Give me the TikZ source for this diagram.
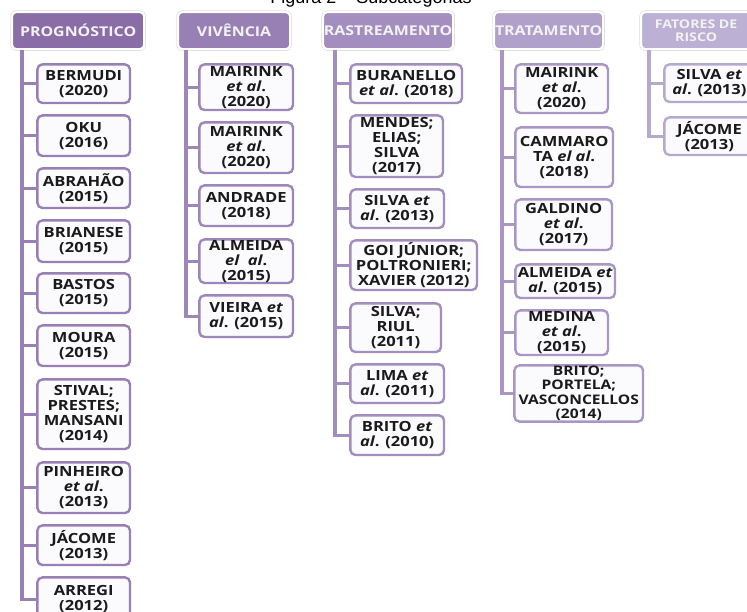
\documentclass[tikz,border=0pt]{standalone}
\usepackage{fontspec}
\setmainfont{Open Sans}[FakeStretch=1.18]
\newfontfamily\titlefont{Liberation Sans}
\definecolor{hA}{HTML}{8A6CA7}
\definecolor{hB}{HTML}{9880B4}
\definecolor{hC}{HTML}{A38EBF}
\definecolor{hD}{HTML}{B0A0CA}
\definecolor{hE}{HTML}{BCB0D4}
\definecolor{bA}{HTML}{9880B6}
\definecolor{bB}{HTML}{9C86BA}
\definecolor{bC}{HTML}{A28DBF}
\definecolor{bD}{HTML}{A996C5}
\definecolor{bE}{HTML}{B6A9CF}
\definecolor{boxfill}{HTML}{FBFAFD}
\definecolor{txt}{HTML}{1A1A1A}
\tikzset{
  hd/.style={preaction={draw=black!13,line width=3.6pt}, draw=white, line width=2.2pt,
    rounded corners=4pt, anchor=north west, inner sep=0pt, align=center,
    text=white!95!black, font=\bfseries\fontsize{13.5}{14}\selectfont},
  bx/.style={draw=#1, line width=2.4pt, fill=boxfill, rounded corners=5pt,
    anchor=north west, inner sep=0.5pt, align=center, text=txt,
    font=\bfseries\fontsize{14}{15}\selectfont},
  tk/.style={draw=#1, line width=3.4pt}
}
\begin{document}
\begin{tikzpicture}[x=1pt,y=-1pt]
\path[use as bounding box] (0,0) rectangle (747,611);
\clip (0,0) rectangle (747,611);
\node[anchor=base, font=\titlefont\fontsize{18}{20}\selectfont] (title) at (371,3.5) {Figura 2 – Subcategorias};
% headers
\node[hd, fill=hA, minimum width=132, minimum height=37] (hp) at (11,11) {PROGNÓSTICO};
\node[hd, fill=hB, minimum width=112, minimum height=37] (hv) at (177,11) {VIVÊNCIA};
\node[hd, fill=hC, minimum width=130, minimum height=37] (hr) at (322,11) {RASTREAMENTO};
\node[hd, fill=hD, minimum width=109, minimum height=37] (ht) at (493,11) {TRATAMENTO};
\node[hd, fill=hE, minimum width=110, minimum height=37, font=\bfseries\fontsize{12}{12.5}\selectfont] (hf) at (640,11) {FATORES DE\\RISCO};
% PROGNOSTICO
\node[bx=bA, minimum width=92.6, minimum height=38.6] (p1) at (36.2,63.2) {BERMUDI\\(2020)};
\node[bx=bA, minimum width=92.6, minimum height=40.6] (p2) at (36.2,114.2) {OKU\\(2016)};
\node[bx=bA, minimum width=92.6, minimum height=39.6] (p3) at (36.2,167.2) {ABRAHÃO\\(2015)};
\node[bx=bA, minimum width=92.6, minimum height=41.6] (p4) at (36.2,219.2) {BRIANESE\\(2015)};
\node[bx=bA, minimum width=92.6, minimum height=39.6] (p5) at (36.2,272.2) {BASTOS\\(2015)};
\node[bx=bA, minimum width=92.6, minimum height=40.6] (p6) at (36.2,324.2) {MOURA\\(2015)};
\node[bx=bA, minimum width=92.6, minimum height=69.6] (p7) at (36.2,378.2) {STIVAL;\\PRESTES;\\MANSANI\\(2014)};
\node[bx=bA, minimum width=92.6, minimum height=50.6] (p8) at (36.2,461.2) {PINHEIRO\\\textit{et al}.\\(2013)};
\node[bx=bA, minimum width=92.6, minimum height=39.6] (p9) at (36.2,524.2) {JÁCOME\\(2013)};
\node[bx=bA, minimum width=92.6, minimum height=44] (p10) at (36.2,576.2) {ARREGI\\(2012)};
\foreach \n in {p1,p2,p3,p4,p5,p6,p7,p8,p9,p10}
  \draw[tk=bA] ([xshift=11pt]hp.south west) |- (\n.west);
% VIVENCIA
\node[bx=bB, minimum width=93.6, minimum height=45.6] (v1) at (198.2,63.2) {MAIRINK\\\textit{et al}.\\(2020)};
\node[bx=bB, minimum width=93.6, minimum height=50.6] (v2) at (198.2,121.2) {MAIRINK\\\textit{et al}.\\(2020)};
\node[bx=bB, minimum width=93.6, minimum height=40.6] (v3) at (198.2,184.2) {ANDRADE\\(2018)};
\node[bx=bB, minimum width=93.6, minimum height=43.6] (v4) at (198.2,238.2) {ALMEIDA\\\textit{el\ \ al}.\\(2015)};
\node[bx=bB, minimum width=93.6, minimum height=41.6] (v5) at (198.2,294.2) {VIEIRA \textit{et}\\\textit{al}. (2015)};
\foreach \n in {v1,v2,v3,v4,v5}
  \draw[tk=bB] ([xshift=9pt]hv.south west) |- (\n.west);
% RASTREAMENTO
\node[bx=bC, minimum width=111.6, minimum height=38.6] (r1) at (349.2,63.2) {BURANELLO\\\textit{et al}. (2018)};
\node[bx=bC, minimum width=92.6, minimum height=61.6] (r2) at (349.2,114.2) {MENDES;\\ELIAS;\\SILVA\\(2017)};
\node[bx=bC, minimum width=93.6, minimum height=38.6] (r3) at (349.2,188.2) {SILVA \textit{et}\\\textit{al}. (2013)};
\node[bx=bC, minimum width=126.6, minimum height=49.6] (r4) at (349.2,239.2) {GOI JÚNIOR;\\POLTRONIERI;\\XAVIER (2012)};
\node[bx=bC, minimum width=90.6, minimum height=48.6] (r5) at (349.2,302.2) {SILVA;\\RIUL\\(2011)};
\node[bx=bC, minimum width=93.6, minimum height=38.6] (r6) at (349.2,363.2) {LIMA \textit{et}\\\textit{al}. (2011)};
\node[bx=bC, minimum width=93.6, minimum height=39.6] (r7) at (349.2,414.2) {BRITO \textit{et}\\\textit{al}. (2010)};
\foreach \n in {r1,r2,r3,r4,r5,r6,r7}
  \draw[tk=bC] ([xshift=13pt]hr.south west) |- (\n.west);
% TRATAMENTO
\node[bx=bD, minimum width=92.6, minimum height=48.6] (t1) at (514.2,63.2) {MAIRINK\\\textit{et al}.\\(2020)};
\node[bx=bD, minimum width=97.6, minimum height=59.6] (t2) at (514.2,126.2) {CAMMARO\\TA \textit{el al}.\\(2018)};
\node[bx=bD, minimum width=96.6, minimum height=50.6] (t3) at (514.2,198.2) {GALDINO\\\textit{et al}.\\(2017)};
\node[bx=bD, minimum width=99.6, minimum height=33.6] (t4) at (514.2,263.2) {ALMEIDA \textit{et}\\\textit{al}. (2015)};
\node[bx=bD, minimum width=92.6, minimum height=44.6] (t5) at (514.2,309.2) {MEDINA\\\textit{et al}.\\(2015)};
\node[bx=bD, minimum width=128.6, minimum height=54.6, font=\bfseries\fontsize{13.2}{14.5}\selectfont] (t6) at (513.2,364.2) {BRITO;\\PORTELA;\\VASCONCELLOS\\(2014)};
\foreach \n in {t1,t2,t3,t4,t5,t6}
  \draw[tk=bD] ([xshift=9pt]ht.south west) |- (\n.west);
% FATORES DE RISCO
\node[bx=bE, minimum width=90, minimum height=37.6] (f1) at (663.2,63.2) {SILVA \textit{et}\\\textit{al}. (2013)};
\node[bx=bE, minimum width=90, minimum height=37.6] (f2) at (663.2,116.2) {JÁCOME\\(2013)};
\foreach \n in {f1,f2}
  \draw[tk=bE] ([xshift=9pt]hf.south west) |- (\n.west);
\end{tikzpicture}
\end{document}
